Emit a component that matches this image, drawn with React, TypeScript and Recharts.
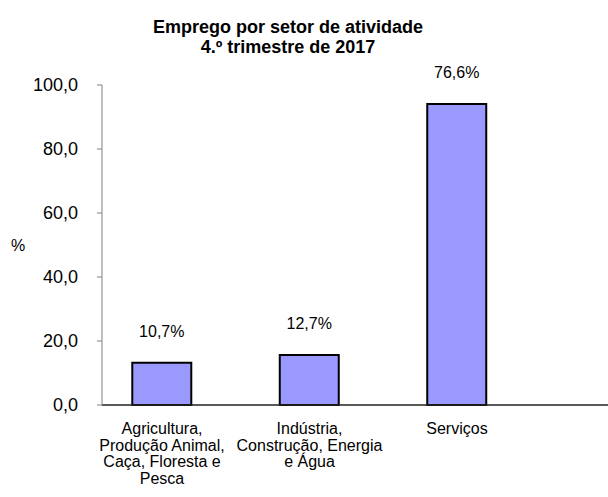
import { BarChart, Bar, XAxis, YAxis, LabelList } from "recharts";

const categories = [
  ["Agricultura,", "Produção Animal,", "Caça, Floresta e", "Pesca"],
  ["Indústria,", "Construção, Energia", "e Água"],
  ["Serviços"],
];
const barValues = [13.2, 15.6, 94.1];
const valueLabels = ["10,7%", "12,7%", "76,6%"];
const yTicks = [0, 20, 40, 60, 80, 100];

const FONT = "'Liberation Sans', Arial, sans-serif";

const data = categories.map((c, i) => ({
  pos: i + 1,
  value: barValues[i],
  label: valueLabels[i],
}));

const CategoryTick = ({ x, y, payload }: any) => {
  const lines = categories[payload.value - 1] || [];
  return (
    <text x={x} y={y} textAnchor="middle" fontSize={16} fontFamily={FONT} fill="#000">
      {lines.map((l, i) => (
        <tspan key={i} x={x} dy={i === 0 ? 21 : 16.7}>
          {l}
        </tspan>
      ))}
    </text>
  );
};

const App = () => {
  return (
    <div style={{ position: "absolute", left: 0, top: 0, width: 608, height: 497, background: "#fff" }}>
      <div
        style={{
          position: "absolute",
          left: 0,
          top: 17,
          width: 576,
          textAlign: "center",
          fontFamily: FONT,
          fontWeight: "bold",
          fontSize: 18,
          lineHeight: "20px",
          color: "#000",
        }}
      >
        Emprego por setor de atividade
        <br />
        4.º trimestre de 2017
      </div>
      <BarChart
        width={608}
        height={497}
        data={data}
        margin={{ top: 85, right: 0, bottom: 0, left: 0 }}
      >
        <XAxis
          type="number"
          dataKey="pos"
          domain={[0.593, 4.024]}
          ticks={[1, 2, 3]}
          allowDataOverflow
          height={92}
          tickLine={false}
          axisLine={{ stroke: "#222", strokeWidth: 1.5 }}
          tick={<CategoryTick />}
          interval={0}
        />
        <YAxis
          width={102}
          domain={[0, 100]}
          ticks={yTicks}
          tickFormatter={(v: number) => v.toFixed(1).replace(".", ",")}
          tickSize={5}
          tickMargin={19}
          tick={{ fontSize: 18, fontFamily: FONT, fill: "#000" }}
          tickLine={{ stroke: "#808080" }}
          axisLine={{ stroke: "#808080" }}
          label={{
            value: "%",
            position: "insideLeft",
            offset: 11,
            fontSize: 16,
            fontFamily: FONT,
            fill: "#000",
          }}
        />
        <Bar
          dataKey="value"
          barSize={59}
          fill="#9999FF"
          stroke="#000"
          strokeWidth={2}
          isAnimationActive={false}
        >
          <LabelList
            dataKey="label"
            position="top"
            offset={26}
            fontSize={16}
            fontFamily={FONT}
            fill="#000"
          />
        </Bar>
      </BarChart>
    </div>
  );
};

export default App;
